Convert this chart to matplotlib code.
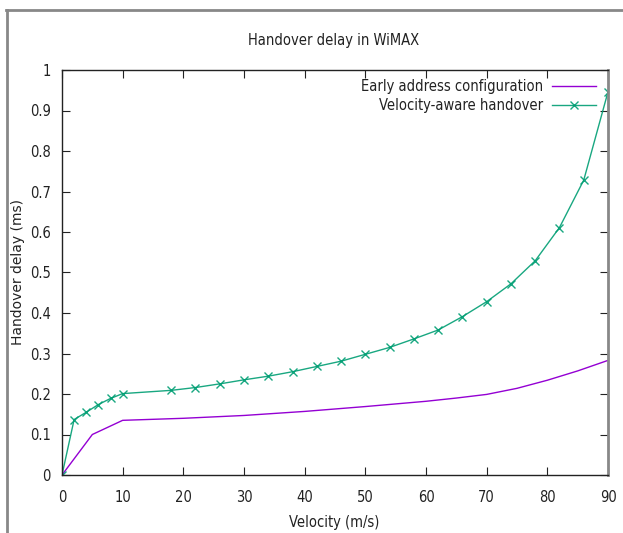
import matplotlib
matplotlib.use("Agg")
import matplotlib.pyplot as plt
from matplotlib import font_manager as fm
from matplotlib.lines import Line2D
from matplotlib.ticker import FuncFormatter, MultipleLocator

# Data
early_x = [0, 5, 10, 20, 30, 40, 50, 60, 65, 70, 75, 80, 85, 90]
early_y = [0, 0.100, 0.135, 0.140, 0.147, 0.157, 0.169, 0.182, 0.190, 0.199, 0.214, 0.234, 0.257, 0.283]

vel_x = [0, 2, 4, 6, 8, 10, 18, 22, 26, 30, 34, 38, 42, 46, 50, 54, 58, 62, 66, 70, 74, 78, 82, 86, 90]
vel_y = [0, 0.137, 0.155, 0.174, 0.189, 0.201, 0.209, 0.216, 0.225, 0.235, 0.244, 0.255, 0.268,
         0.281, 0.298, 0.315, 0.336, 0.358, 0.391, 0.428, 0.472, 0.529, 0.611, 0.728, 0.946]

labels = ["Early address configuration", "Velocity-aware handover"]
title = "Handover delay in WiMAX"
xlabel = "Velocity (m/s)"
ylabel = "Handover delay (ms)"

plt.rcParams['font.family'] = ['DejaVu Sans']

cond_path = None
for f in fm.fontManager.ttflist:
    if f.fname.endswith('DejaVuSansCondensed.ttf'):
        cond_path = f.fname
        break

def cprop(size):
    if cond_path:
        return fm.FontProperties(fname=cond_path, size=size)
    return fm.FontProperties(family='DejaVu Sans', stretch='condensed', size=size)

TXT = '#222222'
FS = 10.5

fig = plt.figure(figsize=(6.23, 5.33), dpi=100)
ax = fig.add_axes([62/623, 1 - 475/533, 546/623, 405/533])

ax.plot(early_x, early_y, color='#9400d3', lw=1.0, label=labels[0])
ax.plot(vel_x, vel_y, color='#009e73', lw=1.0, marker='x', ms=6, mew=1.0, label=labels[1],
        alpha=0.9)

ax.set_xlim(0, 90)
ax.set_ylim(0, 1)
ax.xaxis.set_major_locator(MultipleLocator(10))
ax.yaxis.set_major_locator(MultipleLocator(0.1))
ax.yaxis.set_major_formatter(FuncFormatter(lambda v, p: f"{v:.10g}" if abs(v) > 1e-9 else "0"))

ax.tick_params(direction='in', top=True, right=True, length=6, width=0.8, pad=8,
               colors=TXT, labelcolor=TXT)
ax.tick_params(axis='x', pad=11)
for lab in ax.get_xticklabels() + ax.get_yticklabels():
    lab.set_fontproperties(cprop(FS))

for s in ['left', 'top', 'bottom']:
    ax.spines[s].set_color(TXT)
    ax.spines[s].set_linewidth(1.0)
ax.spines['right'].set_color('#888888')
ax.spines['right'].set_linewidth(2.0)

fig.text(334/623, 1 - 41/533, title, ha='center', va='center', color=TXT, fontproperties=cprop(FS))
fig.text(334/623, 1 - 523/533, xlabel, ha='center', va='center', color=TXT, fontproperties=cprop(FS))
fig.text(18/623, 1 - 272/533, ylabel, ha='center', va='center', rotation=90, fontsize=10, color=TXT)

leg = ax.legend(loc='upper right', bbox_to_anchor=(0.988, 0.993), frameon=False, markerfirst=False,
                prop=cprop(FS), handlelength=3.0, handletextpad=0.6, labelspacing=0.3, borderaxespad=0)
for t in leg.get_texts():
    t.set_color(TXT)

# outer gray frame (screenshot border)
fig.add_artist(Line2D([6/623, 1.0], [1 - 10/533, 1 - 10/533], transform=fig.transFigure, color='#888888', lw=2))
fig.add_artist(Line2D([7/623, 7/623], [1 - 10/533, 0], transform=fig.transFigure, color='#888888', lw=2))

fig.savefig('out.png', dpi=100)
